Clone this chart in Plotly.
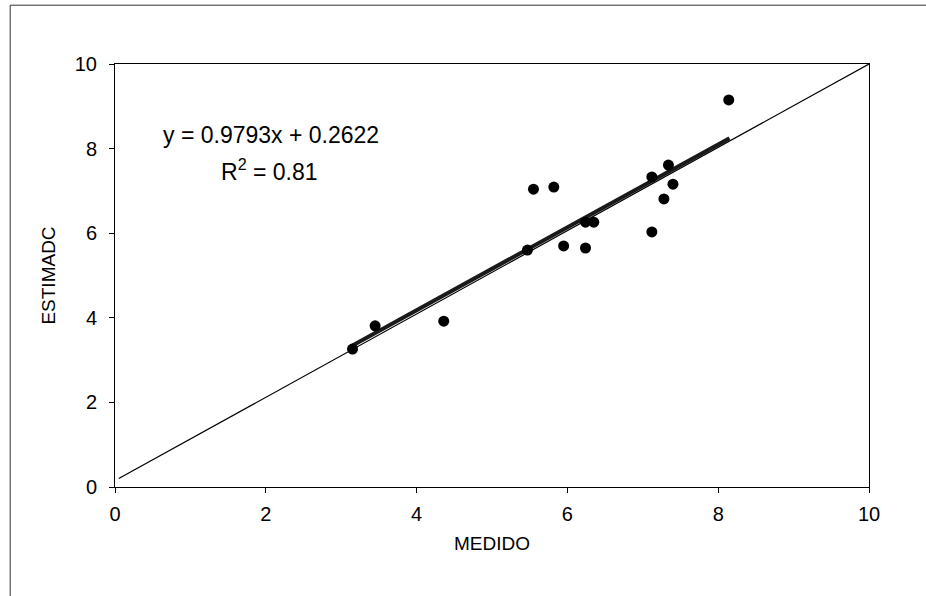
import plotly.graph_objects as go

# Data
medido = [3.15, 3.45, 4.36, 5.47, 5.55, 5.82, 5.95, 6.24, 6.24, 6.35, 7.12, 7.12, 7.28, 7.34, 7.40, 8.14]
estimado = [3.26, 3.81, 3.92, 5.60, 7.04, 7.09, 5.70, 5.65, 6.26, 6.26, 6.03, 7.33, 6.81, 7.61, 7.16, 9.15]

slope = 0.9793
intercept = 0.2622
fit_x = [3.15, 8.15]
fit_y = [slope * v + intercept for v in fit_x]

ref_x = [0.05, 10.0]
ref_y = [0.2, 10.0]

tick_vals = [0, 2, 4, 6, 8, 10]
tick_text = ["0", "2", "4", "6", "8", "10"]

FONT = "Liberation Sans, Arial, sans-serif"

fig = go.Figure()
fig.add_trace(go.Scatter(x=ref_x, y=ref_y, mode="lines",
                         line=dict(color="black", width=1.2), showlegend=False))
fig.add_trace(go.Scatter(x=fit_x, y=fit_y, mode="lines",
                         line=dict(color="#1a1a1a", width=4), showlegend=False))
fig.add_trace(go.Scatter(x=medido, y=estimado, mode="markers",
                         marker=dict(color="black", size=11, symbol="circle"),
                         showlegend=False))

fig.add_annotation(x=2.07, y=8.33, xref="x", yref="y", showarrow=False,
                   text="y = 0.9793x + 0.2622",
                   font=dict(family=FONT, size=23, color="black"))
fig.add_annotation(x=2.05, y=7.5, xref="x", yref="y", showarrow=False,
                   text="R<sup>2</sup> = 0.81",
                   font=dict(family=FONT, size=23, color="black"))

# outer frame (left and top edges visible in the reference)
fig.add_shape(type="line", xref="paper", yref="paper",
              x0=-0.139, y0=1.139, x1=1.08, y1=1.139,
              line=dict(color="#333333", width=1))
fig.add_shape(type="line", xref="paper", yref="paper",
              x0=-0.139, y0=1.139, x1=-0.139, y1=-0.26,
              line=dict(color="#333333", width=1))

axis_common = dict(
    range=[0, 10], tickvals=tick_vals, ticktext=tick_text,
    showgrid=False, zeroline=False, showline=True, linecolor="black",
    linewidth=1, mirror=True, ticks="outside", ticklen=5, tickcolor="black",
    tickfont=dict(family=FONT, size=20, color="black"),
)

fig.update_layout(
    width=926, height=596,
    margin=dict(l=115, r=57, t=64, b=109),
    paper_bgcolor="white", plot_bgcolor="white",
    xaxis=dict(**axis_common, ticklabelstandoff=4,
               title=dict(text="MEDIDO", font=dict(family=FONT, size=19, color="black"),
                          standoff=12)),
    yaxis=dict(**axis_common, ticklabelstandoff=8,
               title=dict(text="ESTIMADC", font=dict(family=FONT, size=19, color="black"),
                          standoff=14)),
)

fig.write_html("out.html")
